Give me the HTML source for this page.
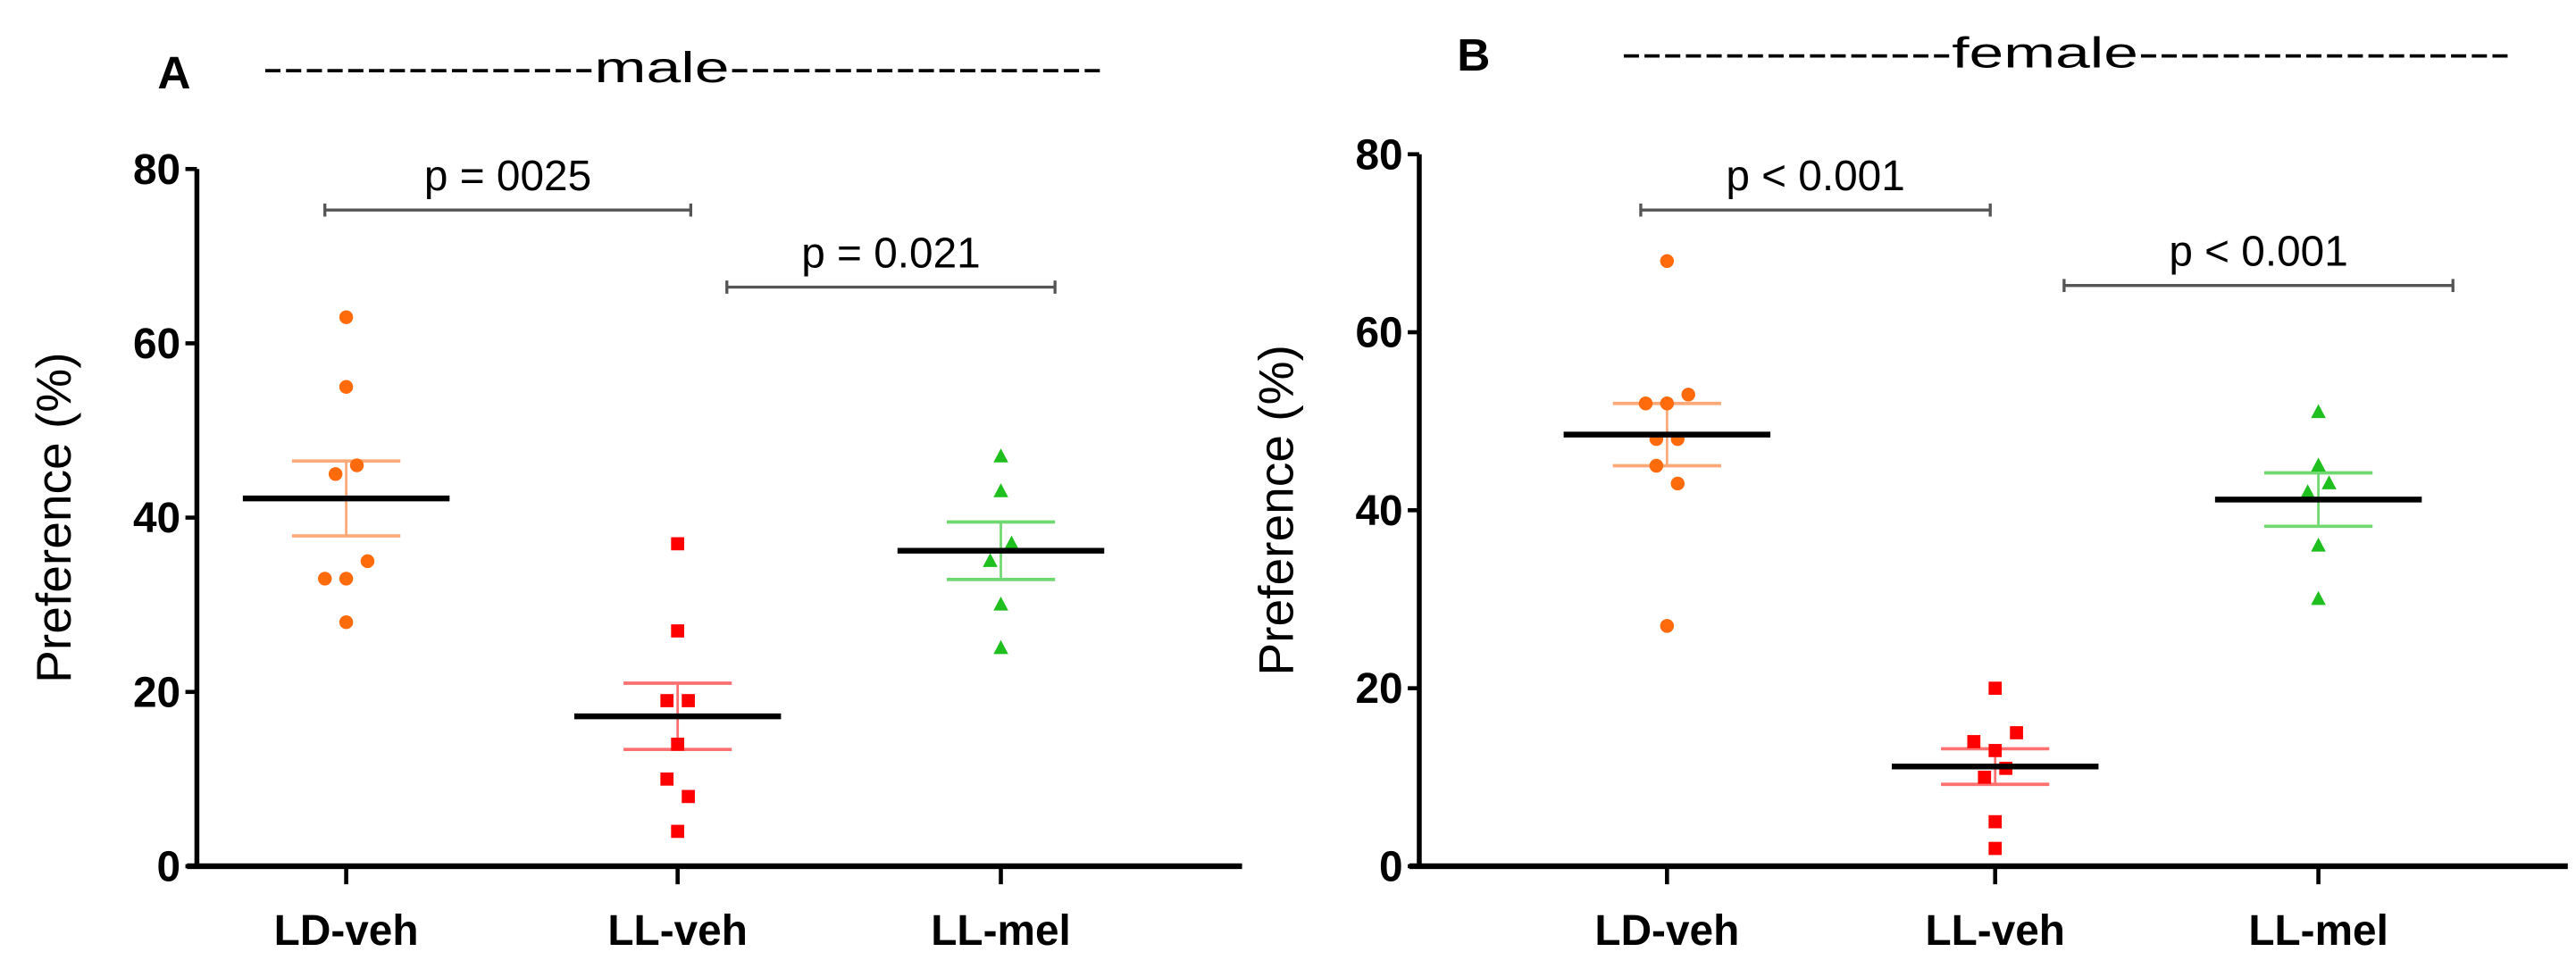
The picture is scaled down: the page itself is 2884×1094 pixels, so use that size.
<!DOCTYPE html>
<html><head><meta charset="utf-8"><style>
html,body{margin:0;padding:0;background:#fff}
svg{display:block;font-family:"Liberation Sans",Arial,sans-serif}
</style></head><body>
<svg id="fig" width="2884" height="1094" viewBox="0 0 1570 595.5" xmlns="http://www.w3.org/2000/svg">
<rect width="1570" height="595.5" fill="#fff"/>
<text x="96" y="54" font-size="28" font-weight="bold">A</text>
<text x="160" y="50" font-size="26" textLength="512" lengthAdjust="spacingAndGlyphs">----------------male------------------</text>
<text x="888" y="43" font-size="28" font-weight="bold">B</text>
<text x="988" y="41" font-size="26" textLength="542" lengthAdjust="spacingAndGlyphs">----------------female------------------</text>
<g id="pa"></g>
<g id="pb"></g>
</svg>
<script>
const categories = ["LD-veh","LL-veh","LL-mel"];
const yTicks = [0,20,40,60,80];
const maleLD = [63,55,46,45,35,33,33,28];
const maleLLveh = [37,27,19,19,14,10,8,4];
const maleLLmel = [47,43,37,35,30,25];
const maleMeans = [42.2,17.2,36.2];
const maleSEM = [4.3,3.8,3.3];
const femaleLD = [68,53,52,52,48,48,45,43,27];
const femaleLLveh = [20,15,14,13,11,10,5,2];
const femaleLLmel = [51,45,43,42,36,30];
const femaleMeans = [48.5,11.2,41.2];
const femaleSEM = [3.5,2.0,3.0];
const maleP = ["p = 0025","p = 0.021"];
const femaleP = ["p < 0.001","p < 0.001"];
// jitter slots (multiples of a marker width)
const maleJit = [[0,0,1,-1,2,-2,0,0],[0,0,-1,1,0,-1,1,0],[0,0,1,-1,0,0]];
const femaleJit = [[0,2,-2,0,-1,1,-1,1,0],[0,2,-2,0,1,-1,0,0],[0,0,1,-1,0,0]];

const NS="http://www.w3.org/2000/svg";
const colors=["#ff6a0a","#ff0000","#1fbf1f"];
const semColors=["#ffa878","#ff7070","#70d870"];
function mk(parent,tag,attrs){const e=document.createElementNS(NS,tag);for(const k in attrs)e.setAttribute(k,attrs[k]);parent.appendChild(e);return e;}

function panel(g,cfg,groups,means,sems,jits,ptxt){
  const yS=v=>cfg.y0-(v/80)*(cfg.y0-cfg.y80);
  const xS=i=>cfg.cx[i];
  let e=mk(g,"line",{x1:cfg.ax,y1:cfg.y80,x2:cfg.ax,y2:cfg.y0+1.5,stroke:"#000","stroke-width":3});
  
  
  e=mk(g,"line",{x1:cfg.ax-6,y1:cfg.y0,x2:cfg.xEnd,y2:cfg.y0,stroke:"#000","stroke-width":3.5});
  
  
  yTicks.forEach(t=>{
    const y=yS(t);
    e=mk(g,"line",{x1:cfg.ax-7,y1:y,x2:cfg.ax,y2:y,stroke:"#000","stroke-width":2.5});
    
    
    e=mk(g,"text",{x:cfg.ax-10,y:y+9,"font-size":26,"font-weight":"bold","text-anchor":"end"});
    e.textContent=t;
    
    
  });
  e=mk(g,"text",{x:0,y:0,"font-size":30,"text-anchor":"middle",transform:`translate(${cfg.ax-77},${yS(40)}) rotate(-90)`});
  e.textContent="Preference (%)";
  
  
  categories.forEach((c,i)=>{
    e=mk(g,"line",{x1:xS(i),y1:cfg.y0,x2:xS(i),y2:cfg.y0+11,stroke:"#000","stroke-width":2.5});
    
    
    e=mk(g,"text",{x:xS(i),y:cfg.y0+48,"font-size":26,"font-weight":"bold","text-anchor":"middle"});
    e.textContent=c;
    
    
  });
  means.forEach((m,i)=>{
    const x=xS(i);
    e=mk(g,"line",{x1:x,y1:yS(m+sems[i]),x2:x,y2:yS(m-sems[i]),stroke:semColors[i],"stroke-width":1.5});
    
    
    [m+sems[i],m-sems[i]].forEach(v=>{
      e=mk(g,"line",{x1:x-33,y1:yS(v),x2:x+33,y2:yS(v),stroke:semColors[i],"stroke-width":2});
      
      
    });
  });
  groups.forEach((vals,i)=>{
    vals.forEach((v,j)=>{
      const x=xS(i)+jits[i][j]*6.5, y=yS(v);
      let p;
      if(i===0) p=mk(g,"circle",{cx:x,cy:y,r:4.2,fill:colors[0]});
      else if(i===1) p=mk(g,"rect",{x:x-4,y:y-4,width:8,height:8,fill:colors[1]});
      else p=mk(g,"polygon",{points:`${x},${y-5} ${x+4.5},${y+3.5} ${x-4.5},${y+3.5}`,fill:colors[2]});
      
      
    });
  });
  means.forEach((m,i)=>{
    e=mk(g,"line",{x1:xS(i)-63,y1:yS(m),x2:xS(i)+63,y2:yS(m),stroke:"#000","stroke-width":3.5});
    
    
  });
  cfg.br.forEach((b,k)=>{
    e=mk(g,"path",{d:`M${b[0]},${b[2]-4}V${b[2]+4}M${b[0]},${b[2]}H${b[1]}M${b[1]},${b[2]-4}V${b[2]+4}`,stroke:"#555","stroke-width":1.8,fill:"none"});
    
    
    e=mk(g,"text",{x:(b[0]+b[1])/2,y:b[2]-12,"font-size":26,"text-anchor":"middle"});
    e.textContent=ptxt[k];
    
    
  });
}
panel(document.getElementById('pa'),{ax:120,y0:528,y80:103,xEnd:757,cx:[211,413,610],br:[[198,421,128],[443,643,175]]},
  [maleLD,maleLLveh,maleLLmel],maleMeans,maleSEM,maleJit,maleP);
panel(document.getElementById('pb'),{ax:865,y0:528,y80:94,xEnd:1565,cx:[1016,1216,1413],br:[[1000,1213,128],[1258,1495,174]]},
  [femaleLD,femaleLLveh,femaleLLmel],femaleMeans,femaleSEM,femaleJit,femaleP);
</script>
</body></html>
